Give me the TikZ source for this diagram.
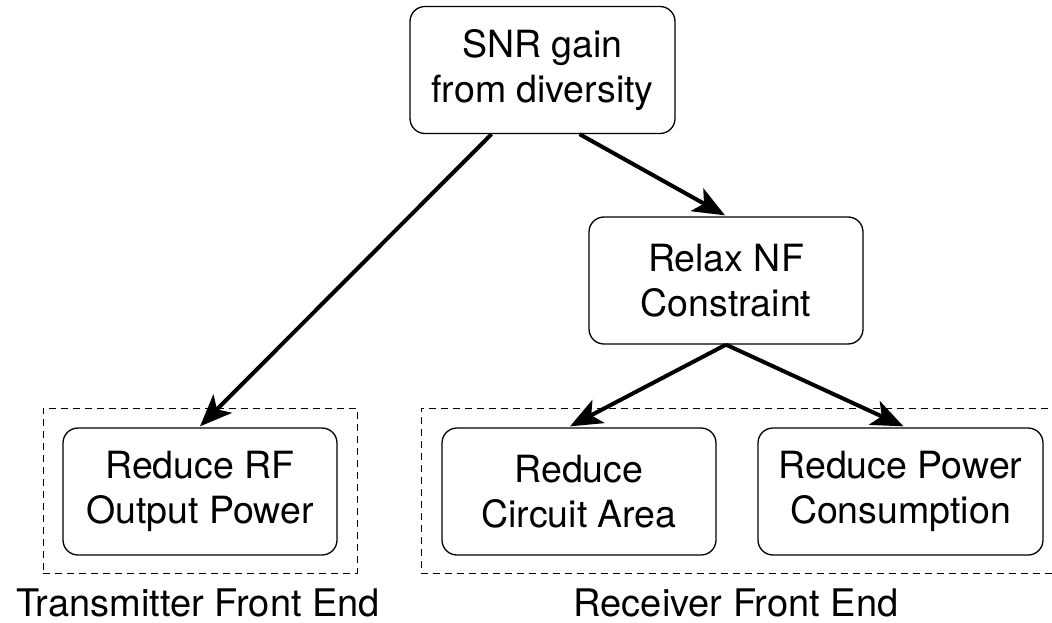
\documentclass[tikz,border=0pt]{standalone}
\usepackage{fontspec}
\setmainfont{TeX Gyre Heros}
\usetikzlibrary{arrows.meta,calc}
\begin{document}
\begin{tikzpicture}[x=1pt,y=-1pt,
  box/.style={draw,line width=1.3pt,rounded corners=15pt,minimum width=274pt,minimum height=127pt,align=center,inner sep=0pt,font=\fontsize{37.5}{45}\selectfont},
  arr/.style={line width=4pt,-{Stealth[length=32pt,width=26pt,inset=8pt]}},
  group/.style={draw,line width=0.9pt,dash pattern=on 7pt off 5pt},
  lab/.style={inner sep=0pt,font=\fontsize{38}{45}\selectfont}]
\useasboundingbox (0,0) rectangle (1052,623);
\node[box,minimum width=265pt] (snr) at (542.5,70) {SNR gain\\from diversity};
\node[box] (relax) at (726,280.5) {Relax NF\\Constraint};
\node[box] (rf) at (200,491.5) {Reduce RF\\Output Power};
\node[box] (area) at (579,491.5) {Reduce\\Circuit Area};
\node[box,minimum width=285pt] (pow) at (900.5,491.5) {Reduce Power\\Consumption};
\node[group,minimum width=314pt,minimum height=165pt,inner sep=0pt] (tx) at (200,490.5) {};
\node[group,minimum width=645pt,minimum height=165pt,inner sep=0pt] (rx) at (743.5,490.5) {};
\node[lab] (txl) at (198,603) {Transmitter Front End};
\node[lab] (rxl) at (736,603) {Receiver Front End};
\draw[arr] ($(snr.south)+(-51,0)$) -- ($(rf.north)+(0,-1)$);
\draw[arr] ($(snr.south)+(37,0)$) -- ($(relax.north)+(-1,-1)$);
\draw[arr] (relax.south) -- ($(area.north)+(-9,-1)$);
\draw[arr] (relax.south) -- ($(pow.north)+(3,-1)$);
\end{tikzpicture}
\end{document}
